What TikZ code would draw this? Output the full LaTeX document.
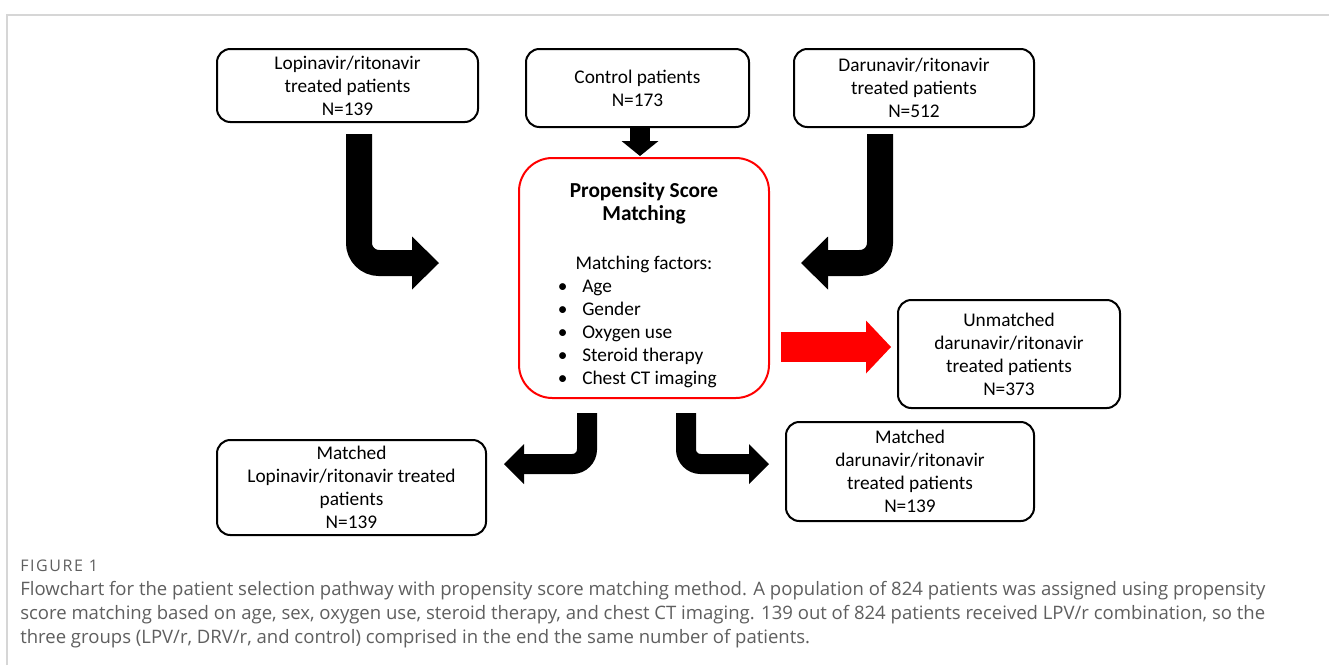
\documentclass[tikz,border=0pt]{standalone}
\usepackage{fontspec}
\setmainfont{Carlito}
\newfontfamily\capfont{Open Sans}
\usetikzlibrary{arrows.meta,calc}

\definecolor{capgray}{HTML}{5F5F5F}
\definecolor{framegray}{HTML}{D6D6D6}

\tikzset{
    bigarrow/.style={draw=black, line width=19.5pt, rounded corners=15pt,
        -{Triangle[length=20.25pt, width=39.75pt, line width=0pt]}},
    smallarrow/.style={draw=black, line width=15pt, rounded corners=11pt,
        -{Triangle[length=15pt, width=30pt, line width=0pt]}},
}

\begin{document}
\begin{tikzpicture}[x=0.75pt, y=-0.75pt]
    \path[use as bounding box, fill=white] (0,0) rectangle (1329,665);
    \draw[framegray, line width=1pt] (7,665) -- (7,15) -- (1329,15);

    \begin{scope}[every node/.style={draw=black, line width=1.5pt, rounded corners=10pt, inner sep=2pt, align=center, font=\fontsize{14.5}{17.25}\selectfont}]
        \node[minimum width=195.75pt, minimum height=54.75pt] (S_1) at (347.5, 85.5) {Lopinavir/ritonavir\\treated patients\\N=139};
        \node[minimum width=167.25pt, minimum height=58.5pt] (S_2) at (637.5, 88) {Control patients\\N=173};
        \node[minimum width=180pt, minimum height=58.5pt] (S_3) at (914, 88) {Darunavir/ritonavir\\treated patients\\N=512};

        \node[minimum width=166.5pt, minimum height=81pt] (U) at (1009, 354) {Unmatched\\darunavir/ritonavir\\treated patients\\N=373};
        \node[minimum width=201.75pt, minimum height=71.25pt] (M_1) at (351.5, 487.5) {Matched\\Lopinavir/ritonavir treated\\patients\\N=139};
        \node[minimum width=186pt, minimum height=74.25pt] (M_2) at (910, 471.5) {Matched\\darunavir/ritonavir\\treated patients\\N=139};

        \node[draw=red, rounded corners=25pt, minimum width=187.5pt, minimum height=180pt] (P) at (644, 278)
            {\rule{0pt}{24.75pt}{\fontsize{16}{18}\selectfont\bfseries Propensity Score}\\
             {\fontsize{16}{18}\selectfont\bfseries Matching}\\[19.5pt]
             Matching factors:\\
             \renewcommand{\arraystretch}{1.01}%
             \begin{tabular}[t]{@{}l@{\hspace{11pt}}l@{}}
                 \textbullet & Age\\
                 \textbullet & Gender\\
                 \textbullet & Oxygen use\\
                 \textbullet & Steroid therapy\\
                 \textbullet & Chest CT imaging
             \end{tabular}\hspace*{10pt}};
    \end{scope}

    % block arrows
    \draw[bigarrow] ($(S_1.south)+(11.5,11)$) |- ($(P.west)+(-79,-15)$);
    \draw[bigarrow] ($(S_3.south)+(-34,6)$) |- ($(P.east)+(31,-15)$);
    \draw[draw=black, line width=15pt, -{Triangle[length=11.25pt, width=27.75pt, line width=0pt]}]
        ($(S_2.south)+(2.5,0)$) -- ($(P.north)+(-4,-1)$);
    \draw[draw=red, line width=22.5pt, -{Triangle[length=18.75pt, width=39.75pt, line width=0pt]}]
        ($(P.east)+(11,69)$) -- ($(U.west)+(-6,-7)$);
    \draw[smallarrow] ($(P.south)+(-57,14)$) |- ($(M_1.east)+(17,-23.5)$);
    \draw[smallarrow] ($(P.south)+(42,14)$) |- ($(M_2.west)+(-16,-7.5)$);

    % caption
    \begin{scope}[every node/.style={text=capgray, anchor=west, inner sep=0pt}]
        \node[font=\capfont\fontsize{12}{14}\selectfont\addfontfeature{LetterSpace=10}] (F) at (20, 566) {FIGURE 1};
        \node[font=\capfont\fontsize{13.9}{18}\selectfont, align=left, anchor=north west] (T) at (20, 581)
            {Flowchart for the patient selection pathway with propensity score matching method. A population of 824 patients was assigned using propensity\\
             score matching based on age, sex, oxygen use, steroid therapy, and chest CT imaging. 139 out of 824 patients received LPV/r combination, so the\\
             three groups (LPV/r, DRV/r, and control) comprised in the end the same number of patients.};
    \end{scope}
\end{tikzpicture}
\end{document}
